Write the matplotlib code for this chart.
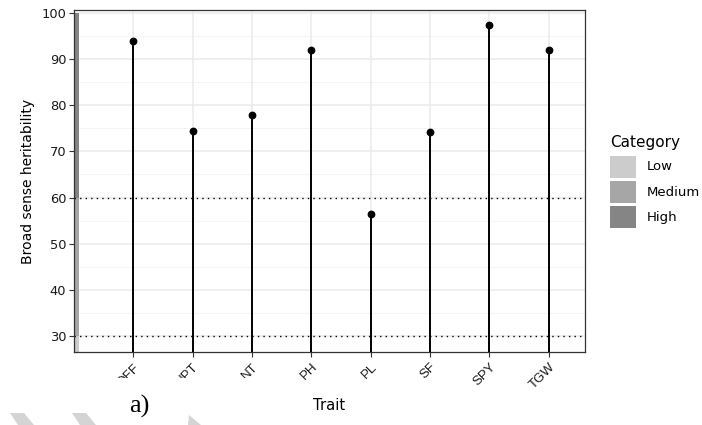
import matplotlib
matplotlib.use("Agg")
import matplotlib.pyplot as plt
from matplotlib.patches import Rectangle, Polygon
import numpy as np

traits = ["DFF", "NPT", "NT", "PH", "PL", "SF", "SPY", "TGW"]
heritability = [94.0, 74.5, 78.0, 92.0, 56.5, 74.3, 97.5, 92.0]
categories = ["Low", "Medium", "High"]
cat_colors = ["#cccccc", "#a6a6a6", "#858585"]
cat_bounds = [(0, 30), (30, 60), (60, 100)]
thresholds = [30, 60]
yticks = [30, 40, 50, 60, 70, 80, 90, 100]

plt.rcParams['font.family'] = ['DejaVu Sans']

W, H = 702, 425
fig = plt.figure(figsize=(W / 100, H / 100), dpi=100)
ax = fig.add_axes([74 / W, 1 - 352 / H, (585 - 74) / W, (352 - 10) / H])

x = np.arange(1, len(traits) + 1)
ax.set_xlim(0.0, 8.61)
ax.set_ylim(26.53, 100.65)

# grid
for v in np.arange(35, 101, 10):
    ax.axhline(v, color="#f3f3f3", lw=0.6, zorder=0)
for v in yticks:
    ax.axhline(v, color="#ebebeb", lw=1.1, zorder=0)
for xv in x:
    ax.axvline(xv, color="#ebebeb", lw=1.1, zorder=0)

# category strip
for (lo, hi), c in zip(cat_bounds, cat_colors):
    ax.add_patch(Rectangle((0, lo), 0.09, hi - lo, facecolor=c, edgecolor="none", zorder=1))

# threshold lines
for t in thresholds:
    ax.axhline(t, color="black", lw=1.0, ls=(0, (1, 3)), zorder=2)

# stems and points
ax.vlines(x, 0, heritability, color="black", lw=1.4, zorder=3)
ax.plot(x, heritability, "o", color="black", ms=4.6, zorder=4)

ax.set_xticks(x)
ax.set_xticklabels(traits, rotation=45, ha="right", rotation_mode="anchor", fontsize=9.5,
                   color="#1a1a1a", family="Liberation Sans")
ax.set_yticks(yticks)
ax.set_yticklabels([str(v) for v in yticks], fontsize=9.4, color="#1a1a1a")
ax.tick_params(axis="both", length=3.5, width=0.8, color="#333333", pad=2)
ax.tick_params(axis="x", pad=3)
for s in ax.spines.values():
    s.set_color("#333333")
    s.set_linewidth(0.9)

ax.set_ylabel("Broad sense heritability", fontsize=10, labelpad=5)
ax.set_xlabel("Trait", fontsize=10.6, labelpad=5)

# legend (drawn manually in figure pixel space)
def fx(px):
    return px / W

def fy(py):
    return 1 - py / H

fig.text(fx(610), fy(142), "Category", fontsize=11, ha="left", va="center")
for i, (lab, c) in enumerate(zip(categories, cat_colors)):
    top = 156 + i * 25
    fig.add_artist(Rectangle((fx(610), fy(top + 22)), 26 / W, 22 / H, transform=fig.transFigure,
                             facecolor=c, edgecolor="none"))
    fig.text(fx(647), fy(top + 11), lab, fontsize=9.5, ha="left", va="center")

# white cover over the lower-left region (as in the reference crop)
fig.add_artist(Rectangle((100 / W, 0), 150 / W, 1 - 378 / H, transform=fig.transFigure,
                         facecolor="white", edgecolor="none", zorder=10))
fig.text(fx(139), fy(406), "a)", fontsize=19, family="Liberation Serif", ha="center", va="center", zorder=11)

# faint decorative shapes at the bottom edge of the reference image
shapes = [
    [(10, 413), (24, 413), (34, 425), (18, 425)],
    [(72, 413), (86, 413), (96, 425), (80, 425)],
    [(189, 415), (201, 425), (188, 425)],
]
for pts in shapes:
    fig.add_artist(Polygon([(fx(px), fy(py)) for px, py in pts], closed=True,
                           transform=fig.transFigure, facecolor="#d4d4d4",
                           edgecolor="none", zorder=11))

fig.savefig("out.png", dpi=100)
